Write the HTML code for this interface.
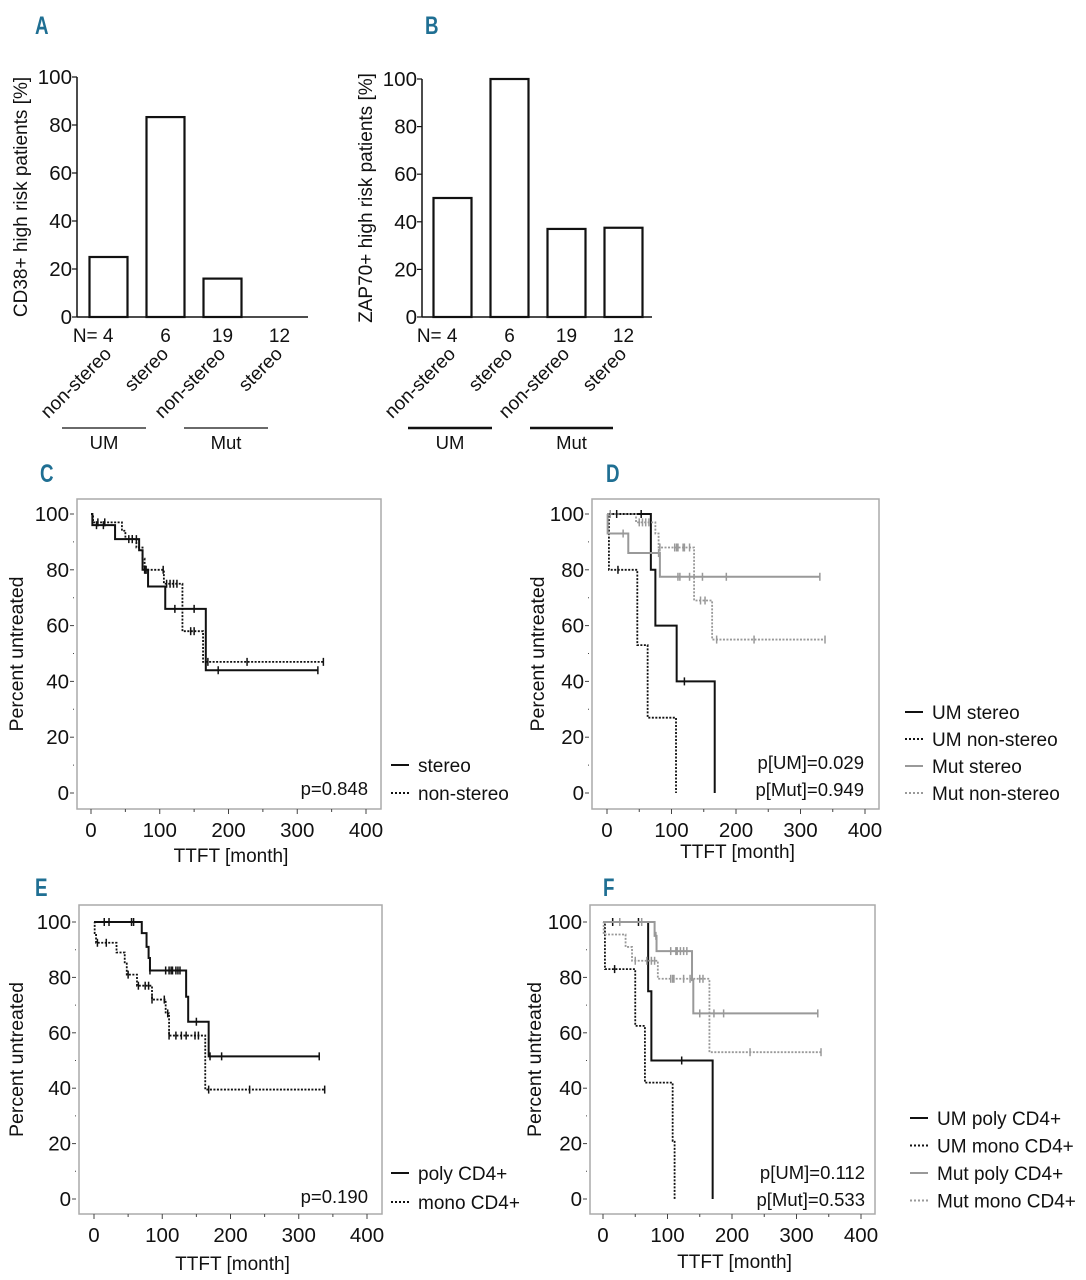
<!DOCTYPE html>
<html><head><meta charset="utf-8"><style>
html,body{margin:0;padding:0;background:#fff;}
svg{display:block;font-family:"Liberation Sans",sans-serif;}
.pl{font-family:"Liberation Sans",sans-serif;font-weight:bold;fill:#1f6f93;font-size:25px;}
</style></head><body>
<svg id="fig" width="1086" height="1280" viewBox="0 0 1086 1280">
<text class="pl" x="35" y="34" transform="translate(35 34) scale(0.75 1) translate(-35 -34)">A</text>
<text class="pl" x="425" y="34" transform="translate(425 34) scale(0.75 1) translate(-425 -34)">B</text>
<text class="pl" x="40" y="482" transform="translate(40 482) scale(0.75 1) translate(-40 -482)">C</text>
<text class="pl" x="606" y="482" transform="translate(606 482) scale(0.75 1) translate(-606 -482)">D</text>
<text class="pl" x="35" y="896" transform="translate(35 896) scale(0.75 1) translate(-35 -896)">E</text>
<text class="pl" x="603" y="896" transform="translate(603 896) scale(0.75 1) translate(-603 -896)">F</text>
</svg>
<script>
// ---- bar data ----
const barCats = ["non-stereo","stereo","non-stereo","stereo"];
const barN = ["N= 4","6","19","12"];
const cd38Values = [25, 83.3, 16, 0];
const zap70Values = [50, 100, 37, 37.5];
const barTicks = [0,20,40,60,80,100];

// ---- KM data: step times / survival / censor times ----
const cStereoT = [0,2,35,70,75,83,108,167];
const cStereoS = [100,96,91,87,80,74,66,44];
const cStereoC = [8,18,60,66,78,80,122,150,185,330];
const cNonT = [0,3,45,50,66,75,78,106,133,163];
const cNonS = [100,97,94,91,88,84,80,75,58,47];
const cNonC = [10,20,55,60,80,105,110,115,120,125,145,150,170,227,338];

const dUmStT = [0,68,75,108,167];
const dUmStS = [100,80,60,40,0];
const dUmStC = [15,53,120];
const dUmNoT = [0,3,47,63,107];
const dUmNoS = [100,80,53,27,0];
const dUmNoC = [17];
const dMutStT = [0,1,33,82];
const dMutStS = [100,93,86,77.5];
const dMutStC = [25,80,110,113,128,148,185,330];
const dMutNoT = [0,45,75,80,135,163];
const dMutNoS = [100,97,93,88,69,55];
const dMutNoC = [5,50,55,60,65,82,105,108,110,118,120,128,145,152,170,228,338];

const ePolyT = [0,70,77,80,82,135,138,168];
const ePolyS = [100,96,91,87,82.5,73,64,51.5];
const ePolyC = [15,22,55,58,82,105,110,113,115,120,123,126,150,170,187,330];
const eMonoT = [0,1,3,33,45,48,63,85,105,110,163];
const eMonoS = [100,96,92.5,89,85,81,77,72,67,59,39.5];
const eMonoC = [5,18,50,65,75,80,85,103,108,110,120,128,135,148,153,168,228,338];

const fUmPolyT = [0,70,75,170];
const fUmPolyS = [100,75,50,0];
const fUmPolyC = [15,55,122];
const fUmMonoT = [0,3,50,65,108,111];
const fUmMonoS = [100,83,62.5,42,21,0];
const fUmMonoC = [18];
const fMutPolyT = [0,80,83,138,140];
const fMutPolyS = [100,95,89.5,79,67];
const fMutPolyC = [26,60,82,105,113,115,120,125,130,150,172,187,333];
const fMutMonoT = [0,1,35,45,85,165];
const fMutMonoS = [100,95.5,91,86,79.5,53];
const fMutMonoC = [50,68,75,80,105,108,110,125,135,150,155,228,338];

const kmXTicks = [0,100,200,300,400];
const kmYTicks = [0,20,40,60,80,100];

const NS = "http://www.w3.org/2000/svg";
const svg = document.getElementById("fig");
function mk(tag, attrs, parent){ const e=document.createElementNS(NS,tag); for(const k in attrs) e.setAttribute(k,attrs[k]); (parent||svg).appendChild(e); return e; }
function txt(s, attrs, parent){ const e=mk("text",attrs,parent); e.textContent=s; return e; }

// ---- bar charts ----
function barChart(id, axX, top, bot, right, x0, step, bw, vals, ytitle, umL, mutL){
  const g = mk("g",{});
  
  
  const ys = v => bot - (bot-top)*v/100;
  mk("line",{x1:axX,y1:top,x2:axX,y2:bot,stroke:"#111","stroke-width":1.5},g);
  mk("line",{x1:axX,y1:bot,x2:right,y2:bot,stroke:"#111","stroke-width":1.5},g);
  barTicks.forEach(t=>{
    mk("line",{x1:axX-5,y1:ys(t),x2:axX,y2:ys(t),stroke:"#111","stroke-width":1.2},g);
    const l = txt(String(t),{x:axX-5,y:ys(t)+7,"text-anchor":"end","font-size":20.5,fill:"#111"},g);
    
    
  });
  vals.forEach((v,i)=>{
    const cx = x0 + i*step;
    if(v>0){
      const r = mk("rect",{x:cx-bw/2,y:ys(v),width:bw,height:bot-ys(v),fill:"#fff",stroke:"#111","stroke-width":2.2},g);
      
      
    }
    const n = txt(barN[i],{x:i==0?cx+5:cx,y:bot+25,"text-anchor":i==0?"end":"middle","font-size":19,fill:"#111"},g);
    
    
    const c = txt(barCats[i],{x:0,y:0,"text-anchor":"end","font-size":19,fill:"#111",transform:`translate(${cx+4} ${bot+38}) rotate(-45)`},g);
    
    
  });
  const yt = txt(ytitle,{x:0,y:0,"text-anchor":"middle","font-size":19,fill:"#111",transform:`translate(${axX-50} ${(top+bot)/2}) rotate(-90)`},g);
  
  
  [[umL,"UM"],[mutL,"Mut"]].forEach(([L,s])=>{
    mk("line",{x1:L[0],y1:428,x2:L[1],y2:428,stroke:"#111","stroke-width":L[2]},g);
    const t = txt(s,{x:(L[0]+L[1])/2,y:449,"text-anchor":"middle","font-size":18.5,fill:"#111"},g);
    
    
  });
}
barChart("bar-chart-cd38",77,77,317,308,108.5,57,38,cd38Values,"CD38+ high risk patients [%]",[62,146,1.2],[184,268,1.2]);
barChart("bar-chart-zap70",422,79,317,652,452.5,57,38,zap70Values,"ZAP70+ high risk patients [%]",[408,492,2.5],[530,613,2.5]);

// ---- KM charts ----
function kmChart(id, fr, x0, x400, y100, y0, series, legendX, legendY0, legendDy, pTexts, pRight, pY, titleX, ttftY){
  const g = mk("g",{});
  
  
  const xs = t => x0 + (x400-x0)*t/400;
  const ys = v => y0 - (y0-y100)*v/100;
  const fb = mk("rect",{x:fr[0],y:fr[1],width:fr[2]-fr[0],height:fr[3]-fr[1],fill:"none",stroke:"#aaa","stroke-width":1.5},g);
  
  
  for(let v=0; v<=100; v+=10){
    const major = v%20==0;
    mk("line",{x1:fr[0]-(major?7:4),y1:ys(v),x2:fr[0]-3,y2:ys(v),stroke:"#444","stroke-width":1},g);
  }
  kmYTicks.forEach(v=>{
    const l = txt(String(v),{x:fr[0]-8,y:ys(v)+7,"text-anchor":"end","font-size":20.5,fill:"#111"},g);
    
    
  });
  for(let t=0; t<=400; t+=50){
    mk("line",{x1:xs(t),y1:fr[3],x2:xs(t),y2:fr[3]+(t%100==0?5:3),stroke:"#444","stroke-width":1},g);
  }
  kmXTicks.forEach(t=>{
    const l = txt(String(t),{x:xs(t),y:fr[3]+28,"text-anchor":"middle","font-size":20.5,fill:"#111"},g);
    
    
  });
  const yt = txt("Percent untreated",{x:0,y:0,"text-anchor":"middle","font-size":19.5,fill:"#111",transform:`translate(${titleX+1} ${(fr[1]+fr[3])/2}) rotate(-90)`},g);
  
  
  const xt = txt("TTFT [month]",{x:(fr[0]+fr[2])/2+2,y:ttftY,"text-anchor":"middle","font-size":19,fill:"#111"},g);
  
  
  series.forEach((s,si)=>{
    const T=s.t, S=s.s, C=s.c;
    const endT = Math.max(C.length?Math.max(...C):0, T[T.length-1]);
    const survAt = t => { let v=S[0]; for(let i=0;i<T.length;i++) if(T[i]<=t) v=S[i]; return v; };
    let d = `M${xs(T[0])},${ys(S[0])}`;
    for(let i=1;i<T.length;i++){ d += ` H${xs(T[i])} V${ys(S[i])}`; }
    if(S[S.length-1]>0) d += ` H${xs(endT)}`;
    const p = mk("path",{d:d,fill:"none",stroke:s.col,"stroke-width":s.dash?1.8:2,"stroke-dasharray":s.dash?"2,1.5":"none"},g);
    
    
    C.forEach(ct=>{
      const cy = ys(survAt(ct));
      const m = mk("line",{x1:xs(ct),y1:cy-4,x2:xs(ct),y2:cy+4,stroke:s.col,"stroke-width":1.5},g);
      
      
    });
    const ly = legendY0 + si*legendDy;
    mk("line",{x1:legendX,y1:ly,x2:legendX+18,y2:ly,stroke:s.col,"stroke-width":2,"stroke-dasharray":s.dash?"2,2":"none"},g);
    const lt = txt(s.label,{x:legendX+27,y:ly+7,"font-size":19,fill:"#111"},g);
    
    
  });
  pTexts.forEach((p,i)=>{
    const t = txt(p,{x:pRight,y:pY+i*27,"text-anchor":"end","font-size":18.5,fill:"#111"},g);
    
    
  });
}
const BK="#111", GR="#999";
kmChart("km-chart-c",[77,499,381,809],91,366,514,793,[
  {name:"stereo",label:"stereo",t:cStereoT,s:cStereoS,c:cStereoC,col:BK,dash:false},
  {name:"non-stereo",label:"non-stereo",t:cNonT,s:cNonS,c:cNonC,col:BK,dash:true}
],391,765,28,["p=0.848"],368,795,22,862);
kmChart("km-chart-d",[592,499,879,809],607,865,514,793,[
  {name:"um-stereo",label:"UM stereo",t:dUmStT,s:dUmStS,c:dUmStC,col:BK,dash:false},
  {name:"um-non-stereo",label:"UM non-stereo",t:dUmNoT,s:dUmNoS,c:dUmNoC,col:BK,dash:true},
  {name:"mut-stereo",label:"Mut stereo",t:dMutStT,s:dMutStS,c:dMutStC,col:GR,dash:false},
  {name:"mut-non-stereo",label:"Mut non-stereo",t:dMutNoT,s:dMutNoS,c:dMutNoC,col:GR,dash:true}
],905,712,27,["p[UM]=0.029","p[Mut]=0.949"],864,769,543,858);
kmChart("km-chart-e",[79,905,382,1214],94,367,922,1199,[
  {name:"poly-cd4",label:"poly CD4+",t:ePolyT,s:ePolyS,c:ePolyC,col:BK,dash:false},
  {name:"mono-cd4",label:"mono CD4+",t:eMonoT,s:eMonoS,c:eMonoC,col:BK,dash:true}
],391,1173,29,["p=0.190"],368,1203,22,1270);
kmChart("km-chart-f",[590,905,875,1214],603,861,922,1199,[
  {name:"um-poly-cd4",label:"UM poly CD4+",t:fUmPolyT,s:fUmPolyS,c:fUmPolyC,col:BK,dash:false},
  {name:"um-mono-cd4",label:"UM mono CD4+",t:fUmMonoT,s:fUmMonoS,c:fUmMonoC,col:BK,dash:true},
  {name:"mut-poly-cd4",label:"Mut poly CD4+",t:fMutPolyT,s:fMutPolyS,c:fMutPolyC,col:GR,dash:false},
  {name:"mut-mono-cd4",label:"Mut mono CD4+",t:fMutMonoT,s:fMutMonoS,c:fMutMonoC,col:GR,dash:true}
],910,1118,27.5,["p[UM]=0.112","p[Mut]=0.533"],865,1179,540,1268);
</script>
</body></html>
